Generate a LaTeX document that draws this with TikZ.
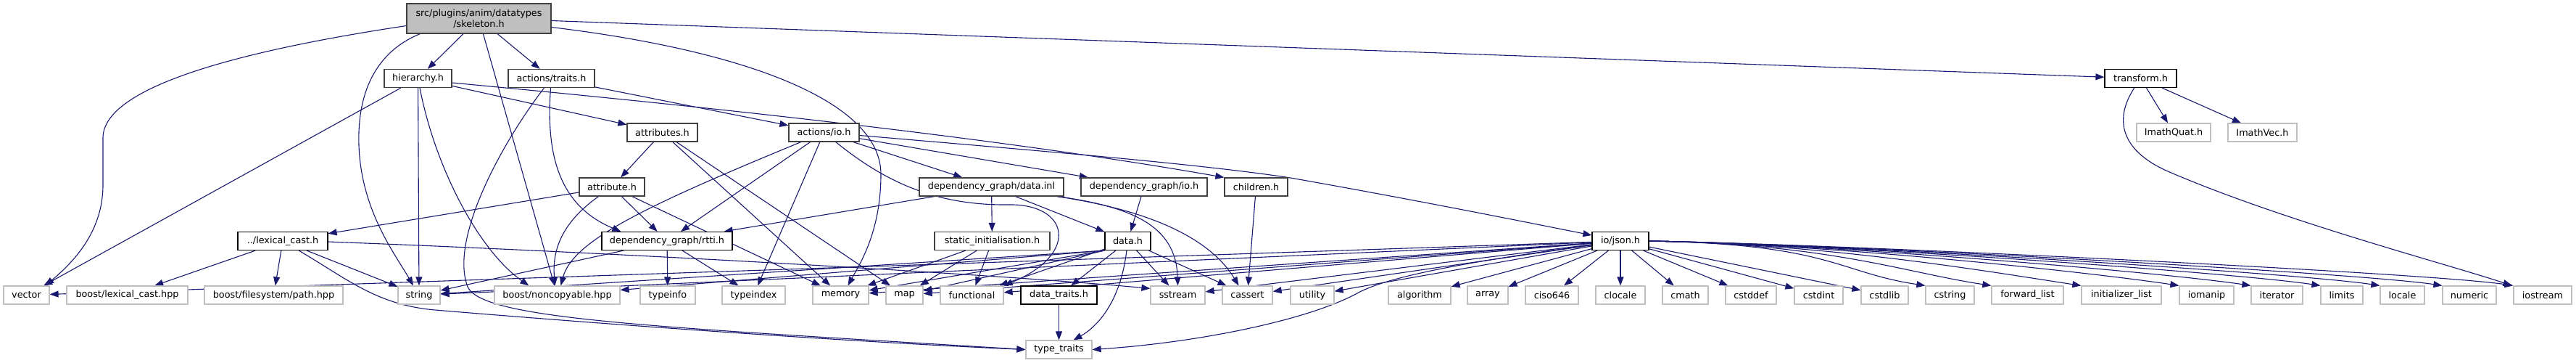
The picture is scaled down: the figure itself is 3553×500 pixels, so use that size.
\documentclass[tikz,border=0pt]{standalone}
\usepackage{fontspec}
\setmainfont{DejaVu Sans}
\usepackage{xcolor}
\usepackage{tikz}
\usetikzlibrary{arrows.meta, calc}
\definecolor{lien}{HTML}{191970}
\definecolor{bord}{HTML}{404040}
\definecolor{grisclair}{HTML}{BFBFBF}
\pgfdeclarelayer{fond}
\pgfdeclarelayer{liens}
\pgfsetlayers{fond,liens,main}

\tikzset{
  boite/.style={draw=bord, fill=white, line width=1.2pt, inner sep=0pt, minimum height=25pt, font=\fontsize{12.8}{15}\selectfont},
  noire/.style={boite, draw=black},
  sys/.style={boite, draw=grisclair},
  racine/.style={boite, fill=grisclair, minimum height=41pt, align=center},
  dep/.style={draw=lien, line width=1.1pt, -{Triangle[length=12pt, width=9pt]}},
}

\begin{document}
\begin{tikzpicture}[x=1pt, y=-1pt]
    \begin{pgfonlayer}{fond}
      \path[use as bounding box, fill=white] (0,0) rectangle (3553,500);
    \end{pgfonlayer}
    % Racine
    \node[racine, minimum width=199] (skel) at (660.5,25.5) {src/plugins/anim/datatypes\\/skeleton.h};
    % Rangee 1
    \node[boite, minimum width=93] (hier) at (576.5,108) {hierarchy.h};
    \node[boite, minimum width=119] (traits) at (760.5,108) {actions/traits.h};
    \node[noire, minimum width=99] (transf) at (2952.5,108) {transform.h};
    % Rangee 2
    \node[boite, minimum width=97] (attrs) at (913.5,182.5) {attributes.h};
    \node[boite, minimum width=97] (aio) at (1136.5,182.5) {actions/io.h};
    \node[sys, minimum width=102] (quat) at (2998,182.5) {ImathQuat.h};
    \node[sys, minimum width=95] (vec) at (3120.5,182.5) {ImathVec.h};
    % Rangee 3
    \node[boite, minimum width=90] (attr) at (844,257.5) {attribute.h};
    \node[boite, minimum width=199] (dginl) at (1367.5,257.5) {dependency\_graph/data.inl};
    \node[boite, minimum width=174] (dgio) at (1578,257.5) {dependency\_graph/io.h};
    \node[boite, minimum width=87] (child) at (1732.5,257.5) {children.h};
    % Rangee 4
    \node[noire, minimum width=124] (lexc) at (390,332) {../lexical\_cast.h};
    \node[noire, minimum width=180] (rtti) at (920,332) {dependency\_graph/rtti.h};
    \node[boite, minimum width=159] (sinit) at (1368.5,332) {static\_initialisation.h};
    \node[noire, minimum width=63] (data) at (1555.5,332) {data.h};
    \node[noire, minimum width=78] (json) at (2235,332) {io/json.h};
    % Rangee 5 : entetes systeme
    \node[noire, minimum width=105] (dtraits) at (1460.5,406.5) {data\_traits.h};
    \foreach \nom/\x/\w/\lab in {
      vector/36.5/63/vector,
      blex/175.5/167/{boost/lexical\_cast.hpp},
      bpath/377.5/191/{boost/filesystem/path.hpp},
      string/578/58/string,
      bnonc/768.5/173/{boost/noncopyable.hpp},
      typeinfo/921/76/typeinfo,
      typeindex/1039.5/87/typeindex,
      memory/1159.5/77/memory,
      map/1247.5/51/map,
      functional/1340.5/87/functional,
      sstream/1624.5/75/sstream,
      cassert/1720.5/69/cassert,
      utility/1810/60/utility,
      algorithm/1958/86/algorithm,
      array/2052/56/array,
      ciso/2140.5/73/ciso646,
      clocale/2235/68/clocale,
      cmath/2324.5/63/cmath,
      cstddef/2415/70/cstddef,
      cstdint/2508.5/67/cstdint,
      cstdlib/2599.5/65/cstdlib,
      cstring/2689.5/67/cstring,
      fwdlist/2796.5/99/{forward\_list},
      initlist/2926/110/{initializer\_list},
      iomanip/3043.5/75/iomanip,
      iterator/3140.5/71/iterator,
      limits/3230/58/limits,
      locale/3313.5/61/locale,
      numeric/3406/74/numeric,
      iostream/3507/80/iostream} {
      \node[sys, minimum width=\w] (\nom) at (\x,406.5) {\lab};
    }
    % Rangee 6
    \node[sys, minimum width=91] (ttraits) at (1460.5,481.5) {type\_traits};

    \begin{pgfonlayer}{liens}
    % Liens : skeleton.h
    \draw[dep] ($(skel.west)+(0,10)$) .. controls (330,70) and (142,120) .. (142,190) -- (142,255) .. controls (142,320) and (100,362) .. ($(vector.north east)+(-6,0)$);
    \draw[dep] ($(skel.south west)+(19,0)$) .. controls (510,75) and (493,140) .. (495,200) .. controls (498,290) and (545,350) .. ($(string.north)+(-8,0)$);
    \foreach \cible in {hier, traits, bnonc} \draw[dep] (skel) -- (\cible);
    \draw[dep] ($(skel.east)+(0,12)$) .. controls (1030,70) and (1215,140) .. (1215,240) .. controls (1215,320) and (1185,365) .. ($(memory.north)+(10,0)$);
    \draw[dep] ($(skel.east)+(0,3)$) -- (transf);
    % Liens : hierarchy.h
    \foreach \cible in {vector, string, attrs} \draw[dep] (hier) -- (\cible);
    \draw[dep] ($(hier.east)+(0,6)$) .. controls (900,140) and (1350,185) .. (child.north west);
    \draw[dep] (hier) .. controls (600,230) and (660,345) .. ($(bnonc.north west)+(48,0)$);
    % Liens : actions/traits.h
    \draw[dep] (traits) -- (aio);
    \draw[dep] (traits) .. controls (690,200) and (620,330) .. (645,395) .. controls (665,440) and (900,450) .. (ttraits.west);
    \draw[dep] (traits) .. controls (752,220) and (775,285) .. ($(rtti.north west)+(27,0)$);
    % Liens : attributes.h, attribute.h
    \foreach \cible in {attr, memory, map} \draw[dep] (attrs) -- (\cible);
    \foreach \cible in {lexc, rtti, memory} \draw[dep] (attr) -- (\cible);
    \draw[dep] (attr) .. controls (770,310) and (762,350) .. ($(bnonc.north)+(-3,0)$);
    % Liens : actions/io.h
    \foreach \cible in {rtti, typeindex, dginl, dgio} \draw[dep] (aio) -- (\cible);
    \draw[dep] ($(aio.east)+(0,4)$) .. controls (1400,205) and (1650,225) .. (1780,245) .. controls (1950,275) and (2100,305) .. ($(json.west)+(0,-8)$);
    \draw[dep] (aio) .. controls (900,280) and (790,330) .. ($(bnonc.north)+(5,0)$);
    \draw[dep] (aio) .. controls (1220,250) and (1290,283) .. (1390,282) .. controls (1475,280) and (1490,350) .. (functional.north east);
    % Liens : dependency_graph
    \foreach \cible in {rtti, sinit, data} \draw[dep] (dginl) -- (\cible);
    \draw[dep] (dginl) .. controls (1560,285) and (1622,310) .. (sstream.north);
    \draw[dep] (dginl) .. controls (1590,290) and (1670,330) .. ($(cassert.north)+(-12,0)$);
    \draw[dep] (dgio) -- (data);
    \draw[dep] (child) -- (cassert);
    \foreach \cible in {typeinfo, typeindex, string} \draw[dep] (rtti) -- (\cible);
    % Liens : ../lexical_cast.h
    \foreach \cible in {blex, bpath, string} \draw[dep] (lexc) -- (\cible);
    \draw[dep] ($(lexc.east)+(0,1)$) .. controls (900,350) and (1400,380) .. ($(sstream.north west)+(0,4)$);
    \draw[dep] (lexc) .. controls (480,385) and (520,420) .. (600,427) .. controls (900,452) and (1200,472) .. (ttraits.west);
    % Liens : static_initialisation.h, data.h
    \foreach \cible in {memory, map, functional} \draw[dep] (sinit) -- (\cible);
    \foreach \cible in {string, bnonc, memory, map} \draw[dep] (data.south west) -- (\cible);
    \foreach \cible in {functional, dtraits, sstream, cassert} \draw[dep] (data) -- (\cible);
    \draw[dep] (data) .. controls (1545,420) and (1510,452) .. ($(ttraits.north)+(20,0)$);
    \draw[dep] (dtraits) -- (ttraits);
    % Liens : io/json.h
    \foreach \cible in {vector, string, memory, map, functional, sstream, cassert, utility, algorithm, array, ciso, clocale, cmath, cstddef, cstdint, cstdlib} \draw[dep] (json) -- (\cible);
    \foreach \cible in {cstring, fwdlist, initlist, iomanip, iterator, limits, locale, numeric, iostream}
      \draw[dep] (json.east) .. controls ($(json.east)+(250,4)$) and ($(\cible.north west)+(-120,-18)$) .. (\cible.north west);
    \draw[dep] (json) .. controls (1990,365) and (1905,385) .. (1870,405) .. controls (1800,442) and (1650,472) .. (ttraits.east);
    % Liens : transform.h
    \foreach \cible in {quat, vec} \draw[dep] (transf) -- (\cible);
    \draw[dep] (transf) .. controls (2918,160) and (2920,205) .. (2990,236) .. controls (3150,305) and (3380,365) .. ($(iostream.north west)+(-2,0)$);
    \end{pgfonlayer}
  \end{tikzpicture}
\end{document}
